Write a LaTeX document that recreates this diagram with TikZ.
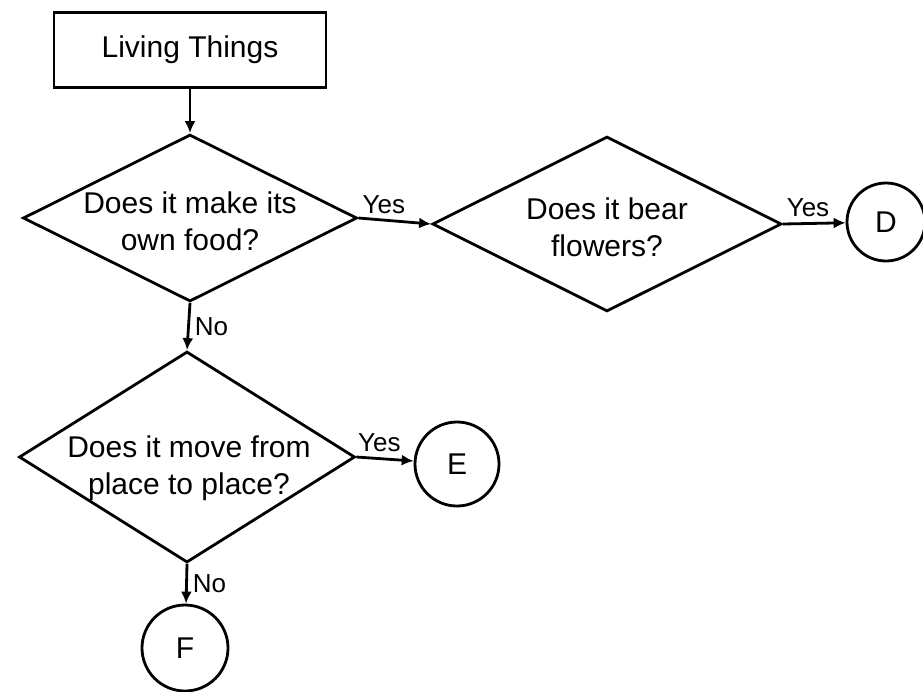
\documentclass[tikz,border=0pt]{standalone}
\usepackage{fontspec}
\setmainfont{Liberation Sans}
\usetikzlibrary{shapes.geometric,arrows.meta}

\begin{document}
\begin{tikzpicture}[x=1pt,y=-1pt,line width=2.8pt,>={Latex[length=12pt,width=11pt]},
    font=\fontsize{30}{37}\selectfont,
    startbox/.style={draw,rectangle,minimum width=272pt,minimum height=75pt},
    decision/.style={draw,diamond,inner sep=0pt},
    qtext/.style={align=center},
    endpoint/.style={draw,circle,inner sep=0pt},
    answer/.style={font=\fontsize{26}{30}\selectfont,inner sep=5pt}]
  \useasboundingbox (0,0) rectangle (923,691);
  % start box
  \node[startbox] (things) at (190,50) {Living Things};
  % questions
  \node[decision,minimum width=334pt,minimum height=167pt,
        label={[qtext,yshift=-3pt]center:Does it make its\\own food?}] (food) at (190,218) {};
  \node[decision,minimum width=349pt,minimum height=175pt,
        label={[qtext,yshift=-3pt]center:Does it bear\\flowers?}] (flowers) at (607,224) {};
  \node[decision,minimum width=336pt,minimum height=211pt,
        label={[qtext,xshift=2pt,yshift=-11pt]center:Does it move from\\place to place?}] (move) at (187,457) {};
  % end points
  \node[endpoint,minimum size=78pt] (D) at (886,222) {D};
  \node[endpoint,minimum size=84pt] (E) at (457,464) {E};
  \node[endpoint,minimum size=86pt] (F) at (185,648) {F};

  \draw[->] (things) -- (food);
  \draw[->] (food.east) -- node[answer,above,pos=.35] {Yes} (flowers.west);
  \draw[->] (flowers.east) -- node[answer,above,pos=.4] {Yes} (D);
  \draw[->] (food.south) -- node[answer,right] {No} (move.north);
  \draw[->] (move.east) -- node[answer,above,pos=.4] {Yes} (E);
  \draw[->] (move.south) -- node[answer,right] {No} (F);
\end{tikzpicture}
\end{document}
